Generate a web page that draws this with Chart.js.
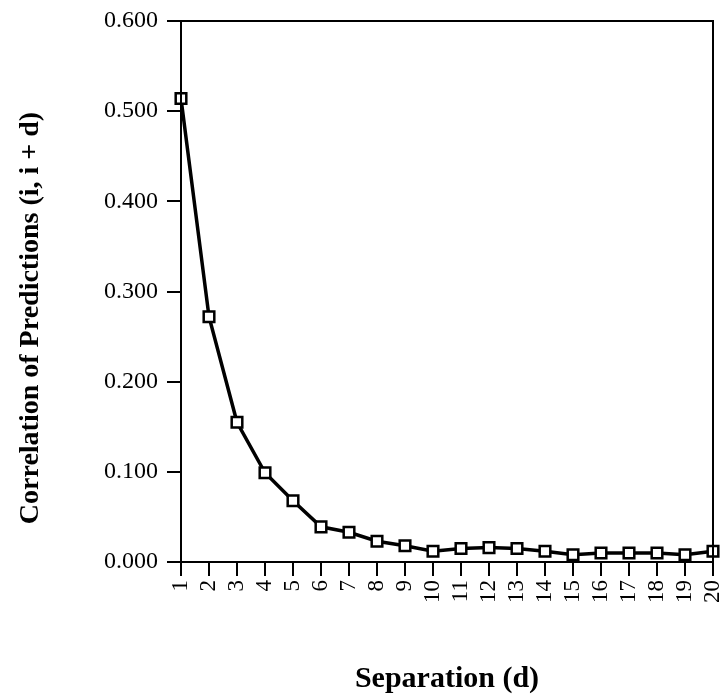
<!DOCTYPE html>
<html>
<head>
<meta charset="utf-8">
<script src="https://cdn.jsdelivr.net/npm/chart.js@4/dist/chart.umd.min.js"></script>
<style>
  html, body { margin: 0; padding: 0; background: #fff; }
  #wrap { width: 728px; height: 699px; position: relative; }
</style>
</head>
<body>
<div id="wrap"><canvas id="c" width="728" height="699"></canvas></div>
<script>
const separations = ['1','2','3','4','5','6','7','8','9','10','11','12','13','14','15','16','17','18','19','20'];
const correlations = [0.514, 0.272, 0.155, 0.099, 0.068, 0.039, 0.033, 0.023, 0.018, 0.012, 0.015, 0.016, 0.015, 0.012, 0.008, 0.010, 0.010, 0.010, 0.008, 0.012];
const yTicks = [0, 0.1, 0.2, 0.3, 0.4, 0.5, 0.6];
const xTitle = 'Separation (d)';
const yTitle = 'Correlation of Predictions (i, i + d)';

const SERIF = '"Liberation Serif", "DejaVu Serif", serif';

const titlesAndBox = {
  id: 'titlesAndBox',
  afterDraw(chart) {
    const ctx = chart.ctx;
    const a = chart.chartArea;
    ctx.save();
    ctx.strokeStyle = '#000';
    ctx.lineWidth = 2;
    ctx.strokeRect(a.left, a.top, a.right - a.left, a.bottom - a.top);
    ctx.fillStyle = '#000';
    ctx.textAlign = 'center';
    ctx.textBaseline = 'middle';
    ctx.font = 'bold 30px ' + SERIF;
    ctx.fillText(xTitle, (a.left + a.right) / 2, 679);
    ctx.translate(31, 318);
    ctx.rotate(-Math.PI / 2);
    ctx.font = 'bold 28px ' + SERIF;
    ctx.fillText(yTitle, 0, 0);
    ctx.restore();
  }
};

new Chart(document.getElementById('c'), {
  type: 'line',
  data: {
    labels: separations,
    datasets: [{
      data: correlations,
      borderColor: '#000',
      borderWidth: 3.5,
      backgroundColor: '#fff',
      pointStyle: 'rect',
      pointRadius: 7.5,
      pointBorderWidth: 2.5,
      pointBackgroundColor: '#fff',
      pointBorderColor: '#000',
      tension: 0,
      clip: false
    }]
  },
  options: {
    responsive: false,
    animation: false,
    devicePixelRatio: 1,
    layout: { padding: { top: 21, right: 15, left: 0, bottom: 0 } },
    plugins: { legend: { display: false }, tooltip: { enabled: false } },
    scales: {
      x: {
        type: 'category',
        offset: false,
        grid: { drawOnChartArea: false, color: '#000', lineWidth: 2, tickLength: 14, tickColor: '#000' },
        border: { color: '#000', width: 2 },
        ticks: {
          color: '#000',
          font: { family: SERIF, size: 23 },
          minRotation: 90, maxRotation: 90,
          padding: 4,
          autoSkip: false
        },
        afterFit(scale) { scale.height = 137; scale.paddingLeft = 0; scale.paddingRight = 0; }
      },
      y: {
        min: 0, max: 0.6,
        afterBuildTicks(scale) { scale.ticks = yTicks.map(v => ({ value: v })); },
        grid: { drawOnChartArea: false, color: '#000', lineWidth: 2, tickLength: 14, tickColor: '#000' },
        border: { color: '#000', width: 2 },
        ticks: {
          color: '#000',
          font: { family: SERIF, size: 24 },
          padding: 9,
          callback: v => Number(v).toFixed(3)
        },
        afterFit(scale) { scale.width = 181; scale.paddingTop = 0; scale.paddingBottom = 0; }
      }
    }
  },
  plugins: [titlesAndBox]
});
</script>
</body>
</html>
